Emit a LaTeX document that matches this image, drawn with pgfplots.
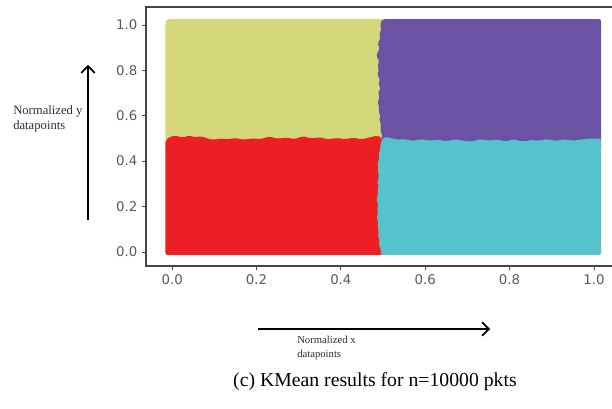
\documentclass[border=0pt]{standalone}
\usepackage{pgfplots}
\pgfplotsset{compat=1.18}
\usepackage{fontspec}
\setmainfont{Liberation Serif}
\newfontfamily\ticksfont{DejaVu Sans}
\usetikzlibrary{arrows.meta}
\definecolor{cyel}{RGB}{212,216,122}
\definecolor{cpur}{RGB}{107,82,163}
\definecolor{cred}{RGB}{237,30,36}
\definecolor{ccya}{RGB}{85,195,204}
\definecolor{tickgray}{RGB}{90,90,90}
\definecolor{framegray}{RGB}{70,70,70}
\definecolor{labcol}{RGB}{45,40,60}
\begin{document}
\begin{tikzpicture}[x=0.75pt,y=0.75pt]
\begin{axis}[
  at={(109.5pt,106.5pt)}, anchor=south west,
  scale only axis, width=351.75pt, height=194.25pt,
  xmin=-0.062, xmax=1.05, ymin=-0.062, ymax=1.079,
  xtick={0,0.2,0.4,0.6,0.8,1}, ytick={0,0.2,0.4,0.6,0.8,1},
  tick pos=left, tick align=outside, major tick length=3pt,
  tick style={draw=framegray, line width=0.6pt},
  axis line style={draw=framegray, line width=0.8pt},
  /pgf/number format/.cd, fixed, fixed zerofill, precision=1, assume math mode=true,
  /pgfplots/.cd,
  ticklabel style={font=\ticksfont\fontsize{10}{12}\selectfont, text=tickgray},
]
\addplot[draw=none, fill=cyel, mark=none, rounded corners=3pt] coordinates {(-0.016,0.45) (-0.016,1.026) (0.55,1.026) (0.55,0.45)} -- cycle;
\addplot[draw=none, fill=cpur, mark=none, rounded corners=1.5pt] coordinates {(0.499,1.026) (0.492,1.0) (0.497,0.98) (0.49,0.96) (0.495,0.94) (0.486,0.92) (0.493,0.90) (0.487,0.88) (0.484,0.86) (0.492,0.84) (0.486,0.82) (0.491,0.80) (0.485,0.78) (0.494,0.76) (0.488,0.74) (0.495,0.72) (0.487,0.70) (0.493,0.68) (0.486,0.66) (0.492,0.64) (0.488,0.62) (0.495,0.60) (0.49,0.58) (0.497,0.56) (0.492,0.54) (0.498,0.52) (0.495,0.45) (1.017,0.45) (1.017,1.026)} -- cycle;
\addplot[draw=none, fill=cred, mark=none, rounded corners=1.5pt] coordinates {(-0.016,-0.013) (-0.016,0.49) (-0.005,0.508) (0.01,0.512) (0.025,0.503) (0.04,0.513) (0.055,0.505) (0.07,0.51) (0.085,0.498) (0.10,0.494) (0.115,0.50) (0.13,0.495) (0.15,0.502) (0.17,0.494) (0.19,0.50) (0.21,0.497) (0.23,0.508) (0.25,0.499) (0.27,0.504) (0.29,0.497) (0.31,0.51) (0.33,0.50) (0.35,0.505) (0.37,0.496) (0.39,0.502) (0.41,0.497) (0.43,0.503) (0.45,0.496) (0.47,0.505) (0.485,0.512) (0.497,0.505) (0.50,0.47) (0.55,0.47) (0.55,-0.013)} -- cycle;
\addplot[draw=none, fill=ccya, mark=none, rounded corners=1.5pt] coordinates {(0.494,-0.013) (0.496,0.01) (0.489,0.03) (0.493,0.05) (0.487,0.07) (0.491,0.09) (0.486,0.11) (0.49,0.13) (0.484,0.15) (0.489,0.17) (0.485,0.19) (0.49,0.21) (0.483,0.23) (0.489,0.25) (0.486,0.27) (0.491,0.29) (0.485,0.31) (0.492,0.33) (0.487,0.35) (0.49,0.37) (0.486,0.39) (0.492,0.41) (0.489,0.43) (0.494,0.45) (0.493,0.47) (0.499,0.50) (0.505,0.508) (0.52,0.50) (0.535,0.494) (0.55,0.497) (0.57,0.489) (0.59,0.497) (0.61,0.49) (0.63,0.495) (0.65,0.487) (0.67,0.496) (0.69,0.49) (0.71,0.486) (0.73,0.497) (0.75,0.49) (0.77,0.495) (0.79,0.487) (0.81,0.496) (0.83,0.486) (0.85,0.493) (0.87,0.49) (0.89,0.497) (0.91,0.489) (0.93,0.496) (0.95,0.49) (0.97,0.495) (0.99,0.50) (1.017,0.498) (1.017,-0.013)} -- cycle;
\end{axis}
\draw[line width=1.3pt, -{Straight Barb[length=5pt,width=10pt]}] (88,188) -- (88,343);
\draw[line width=1.3pt, -{Straight Barb[length=5pt,width=10pt]}] (258,79) -- (490,79);
\node[align=left, anchor=west, inner sep=0pt, text=labcol, font=\fontsize{9.5}{11}\selectfont] at (13,289) {Normalized y\\datapoints};
\node[align=left, anchor=west, inner sep=0pt, text=labcol, font=\fontsize{8}{10.5}\selectfont] at (297,60) {Normalized x\\datapoints};
\node[inner sep=0pt, font=\fontsize{14.8}{16}\selectfont] at (375,26) {(c) KMean results for n=10000 pkts};
\pgfresetboundingbox
\useasboundingbox (0,0) rectangle (612,408);
\end{tikzpicture}
\end{document}
